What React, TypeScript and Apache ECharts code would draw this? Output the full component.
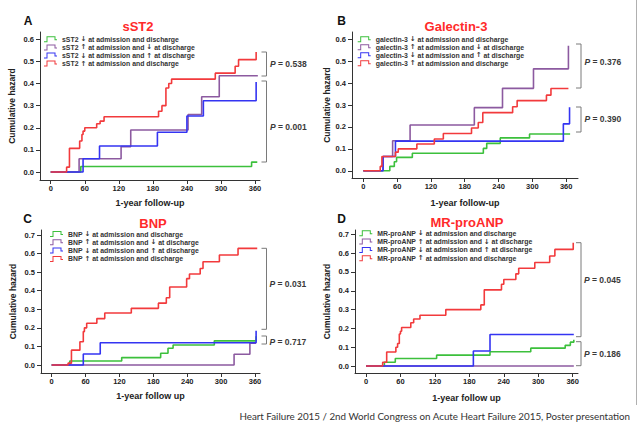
import React, { useEffect, useRef } from "react";
import * as echarts from "echarts";

// ---------- tick values ----------
const X_TICKS = [0, 60, 120, 180, 240, 300, 360];
const Y_TICKS_06 = [0, 0.1, 0.2, 0.3, 0.4, 0.5, 0.6];
const Y_TICKS_07 = [0, 0.1, 0.2, 0.3, 0.4, 0.5, 0.6, 0.7];

// ---------- legend labels ----------
const sst2Names = [
  "sST2 ↓ at admission and discharge",
  "sST2 ↑ at admission and ↓ at discharge",
  "sST2 ↓ at admission and ↑ at discharge",
  "sST2 ↑ at admission and discharge",
];
const galNames = [
  "galectin-3 ↓ at admission and discharge",
  "galectin-3 ↑ at admission and ↓ at discharge",
  "galectin-3 ↓ at admission and ↑ at discharge",
  "galectin-3 ↑ at admission and discharge",
];
const bnpNames = [
  "BNP ↓ at admission and discharge",
  "BNP ↑ at admission and ↓ at discharge",
  "BNP ↓ at admission and ↑ at discharge",
  "BNP ↑ at admission and discharge",
];
const anpNames = [
  "MR-proANP ↓ at admission and discharge",
  "MR-proANP ↑ at admission and ↓ at discharge",
  "MR-proANP ↓ at admission and ↑ at discharge",
  "MR-proANP ↑ at admission and discharge",
];

// ---------- series: [day, cumulative hazard] ----------
const sst2Green = [[0, 0], [53, 0.025], [354, 0.045], [364, 0.045]];
const sst2Purple = [[0, 0], [50, 0.06], [124, 0.115], [141, 0.19], [242, 0.26], [266, 0.34], [297, 0.435], [365, 0.435]];
const sst2Blue = [[0, 0], [57, 0.06], [86, 0.118], [188, 0.18], [240, 0.253], [269, 0.322], [362, 0.407]];
const sst2Red = [[0, 0], [28, 0.022], [33, 0.107], [51, 0.14], [55, 0.17], [57, 0.185], [60, 0.2], [81, 0.218], [87, 0.23], [94, 0.25], [190, 0.275], [196, 0.3], [203, 0.38], [208, 0.4], [213, 0.42], [290, 0.447], [325, 0.478], [331, 0.508], [362, 0.543]];

const galGreen = [[0, 0], [47, 0.02], [55, 0.041], [59, 0.061], [87, 0.08], [213, 0.102], [219, 0.125], [243, 0.15], [295, 0.168], [367, 0.168]];
const galPurple = [[0, 0], [35, 0.065], [52, 0.137], [83, 0.209], [197, 0.288], [247, 0.376], [302, 0.465], [364, 0.57]];
const galBlue = [[0, 0], [35, 0.065], [57, 0.135], [355, 0.214], [366, 0.29]];
const galRed = [[0, 0], [30, 0.02], [33, 0.065], [57, 0.085], [62, 0.1], [95, 0.122], [126, 0.145], [142, 0.17], [192, 0.195], [204, 0.22], [212, 0.265], [265, 0.292], [273, 0.32], [325, 0.345], [333, 0.375], [364, 0.375]];

const bnpGreen = [[0, 0], [32, 0.022], [124, 0.04], [193, 0.063], [206, 0.09], [215, 0.108], [288, 0.13], [362, 0.155]];
const bnpPurple = [[0, 0], [323, 0.058], [351, 0.117], [362, 0.117]];
const bnpBlue = [[0, 0], [56, 0.059], [86, 0.12], [362, 0.185]];
const bnpRed = [[0, 0], [29, 0.01], [35, 0.08], [50, 0.125], [56, 0.18], [58, 0.2], [62, 0.225], [80, 0.25], [94, 0.28], [141, 0.305], [189, 0.333], [203, 0.362], [209, 0.42], [239, 0.465], [244, 0.49], [263, 0.52], [268, 0.556], [297, 0.592], [330, 0.628], [364, 0.628]];

const anpGreen = [[0, 0], [32, 0.02], [51, 0.04], [123, 0.058], [216, 0.076], [287, 0.095], [347, 0.11], [356, 0.127], [362, 0.14]];
const anpPurple = [[0, 0], [362, 0]];
const anpBlue = [[0, 0], [187, 0.08], [216, 0.168], [362, 0.168]];
const anpRed = [[0, 0], [29, 0.02], [36, 0.075], [52, 0.1], [55, 0.12], [58, 0.17], [60, 0.185], [62, 0.205], [78, 0.23], [83, 0.25], [94, 0.27], [139, 0.3], [200, 0.325], [206, 0.405], [236, 0.435], [240, 0.46], [261, 0.49], [266, 0.52], [294, 0.55], [320, 0.585], [329, 0.62], [361, 0.655]];

// ---------- p-values ----------
const pA = ["0.538", "0.001"];
const pB = ["0.376", "0.390"];
const pC = ["0.031", "0.717"];
const pD = ["0.045", "0.186"];

const COLORS = ["#3cc03c", "#8c5aa0", "#3434f2", "#f23a3c"];
const FONT = "'Liberation Sans', Arial, sans-serif";
const AXIS_COLOR = "#333";
const STEP_ICON =
  "path://M0,10 L5,10 L5,0 L23,0 L23,6 L26,6 L26,8 L21,8 L21,2 L7,2 L7,12 L0,12 Z";

const panels = [
  {
    letter: "A", title: "sST2", letterPos: [28, 20.5], titlePos: [138, 26],
    grid: { left: 40, top: 32, width: 220, height: 148 },
    x: [-18.9, 368.8], y: [-0.036, 0.633], yTicks: Y_TICKS_06,
    xName: "1-year follow-up", xGap: 18, yGap: 23.5,
    legend: { left: 44, top: 35.3, gap: 0.1 },
    names: sst2Names, series: [sst2Green, sst2Purple, sst2Blue, sst2Red],
    p: pA,
    brackets: [[261.5, 266.5, 52, 76], [261.5, 266.5, 81, 162]],
    pPos: [[270, 63.5], [270, 127]],
  },
  {
    letter: "B", title: "Galectin-3", letterPos: [341.5, 20.5], titlePos: [456, 26],
    grid: { left: 352, top: 32, width: 226, height: 146 },
    x: [-20.1, 381], y: [-0.033, 0.633], yTicks: Y_TICKS_06,
    xName: "1-year follow-up", xGap: 20, yGap: 21,
    legend: { left: 357.7, top: 35.3, gap: 0.0 },
    names: galNames, series: [galGreen, galPurple, galBlue, galRed],
    p: pB,
    brackets: [[576, 581, 44, 88], [576, 581, 107, 132]],
    pPos: [[584.5, 62], [584.5, 119]],
  },
  {
    letter: "C", title: "BNP", letterPos: [27.5, 218.5], titlePos: [153, 223],
    grid: { left: 41, top: 230, width: 219, height: 143 },
    x: [-18.9, 368.9], y: [-0.043, 0.727], yTicks: Y_TICKS_07,
    xName: "1-year follow up", xGap: 18.5, yGap: 23.2,
    legend: { left: 50, top: 230, gap: 0.3 },
    names: bnpNames, series: [bnpGreen, bnpPurple, bnpBlue, bnpRed],
    p: pC,
    brackets: [[261.5, 266.5, 248.3, 329.3], [261.5, 266.5, 336, 344]],
    pPos: [[269.5, 284.3], [269.5, 341.5]],
  },
  {
    letter: "D", title: "MR-proANP", letterPos: [341.5, 218.5], titlePos: [467, 222],
    grid: { left: 355, top: 230, width: 223, height: 143 },
    x: [-19.2, 369.3], y: [-0.037, 0.723], yTicks: Y_TICKS_07,
    xName: "1-year follow up", xGap: 20.5, yGap: 23.2,
    legend: { left: 359.3, top: 229.3, gap: 0.3 },
    names: anpNames, series: [anpGreen, anpPurple, anpBlue, anpRed],
    p: pD,
    brackets: [[576, 581, 242.7, 336.7], [576, 581, 341.7, 365.7]],
    pPos: [[584, 280], [584, 354]],
  },
];

function buildOption() {
  const grid: any[] = [];
  const xAxis: any[] = [];
  const yAxis: any[] = [];
  const legend: any[] = [];
  const series: any[] = [];
  const graphic: any[] = [];

  const tickLabel = { fontSize: 7.5, fontWeight: "bold", color: "#222", fontFamily: FONT };

  panels.forEach((p, i) => {
    grid.push({ ...p.grid, containLabel: false });
    xAxis.push({
      type: "value", gridIndex: i, min: p.x[0], max: p.x[1],
      name: p.xName, nameLocation: "middle", nameGap: p.xGap,
      nameTextStyle: { fontSize: 9, fontWeight: "bold", color: "#222", fontFamily: FONT },
      axisLine: { show: true, onZero: false, lineStyle: { color: AXIS_COLOR, width: 1 } },
      axisTick: { show: true, length: 4, customValues: X_TICKS, lineStyle: { color: AXIS_COLOR } },
      axisLabel: { ...tickLabel, margin: 4, customValues: X_TICKS, formatter: (v: number) => String(Math.round(v)) },
      splitLine: { show: false },
    });
    yAxis.push({
      type: "value", gridIndex: i, min: p.y[0], max: p.y[1],
      name: "Cumulative hazard", nameLocation: "middle", nameGap: p.yGap,
      nameTextStyle: { fontSize: 8.5, fontWeight: "bold", color: "#222", fontFamily: FONT },
      axisLine: { show: true, onZero: false, lineStyle: { color: AXIS_COLOR, width: 1 } },
      axisTick: { show: true, length: 4, customValues: p.yTicks, lineStyle: { color: AXIS_COLOR } },
      axisLabel: { ...tickLabel, margin: 6, customValues: p.yTicks, formatter: (v: number) => v.toFixed(1) },
      splitLine: { show: false },
    });
    legend.push({
      left: p.legend.left, top: p.legend.top, orient: "vertical", padding: 0,
      itemGap: p.legend.gap, itemWidth: 13, itemHeight: 6, icon: STEP_ICON,
      selectedMode: false, data: p.names,
      itemStyle: { borderWidth: 0 },
      formatter: (name: string) => name.replace(/[↑↓]/g, (m) => `{a|${m}}`),
      textStyle: {
        fontSize: 6.9, fontWeight: "bold", color: "#333", fontFamily: FONT, lineHeight: 8,
        rich: {
          a: { fontSize: 7, fontWeight: "bold", color: "#333", fontFamily: "'DejaVu Sans', sans-serif", lineHeight: 8 },
        },
      },
    });
    p.series.forEach((d, k) => {
      series.push({
        type: "line", name: p.names[k], xAxisIndex: i, yAxisIndex: i,
        step: "end", data: d, symbol: "none", showSymbol: false, silent: true,
        lineStyle: { color: COLORS[k], width: 1.6 },
        itemStyle: { color: COLORS[k] },
      });
    });

    graphic.push({
      type: "text", x: p.letterPos[0], y: p.letterPos[1],
      style: { text: p.letter, fill: "#111", font: `bold 12px ${FONT}`, align: "center", verticalAlign: "middle", textAlign: "center", textVerticalAlign: "middle" },
    });
    graphic.push({
      type: "text", x: p.titlePos[0], y: p.titlePos[1],
      style: { text: p.title, fill: "#ff2a2a", font: `bold 13px ${FONT}`, align: "center", verticalAlign: "middle", textAlign: "center", textVerticalAlign: "middle" },
    });
    p.brackets.forEach((b) => {
      graphic.push({
        type: "polyline",
        shape: { points: [[b[0], b[2]], [b[1], b[2]], [b[1], b[3]], [b[0], b[3]]] },
        style: { stroke: "#7a7a7a", lineWidth: 1, fill: null },
      });
    });
    p.pPos.forEach((pos, k) => {
      graphic.push({
        type: "text", x: pos[0], y: pos[1],
        style: {
          text: `{i|P} {n|= ${p.p[k]}}`,
          rich: {
            i: { fontStyle: "italic", fontSize: 8.5, fontWeight: "bold", fontFamily: FONT, fill: "#3a3a3a" },
            n: { fontSize: 8.5, fontWeight: "bold", fontFamily: FONT, fill: "#3a3a3a" },
          },
          font: `bold 8.5px ${FONT}`, fill: "#3a3a3a",
          align: "left", verticalAlign: "middle", textAlign: "left", textVerticalAlign: "middle",
        },
      });
    });
  });

  graphic.push({
    type: "text", x: 630, y: 416,
    style: {
      text: "Heart Failure 2015 / 2nd World Congress on Acute Heart Failure 2015, Poster presentation",
      fill: "#333", font: `9.8px Lato, ${FONT}`,
      align: "right", verticalAlign: "middle", textAlign: "right", textVerticalAlign: "middle",
    },
  });
  graphic.push({
    type: "line", shape: { x1: 636.5, y1: 0, x2: 636.5, y2: 405 },
    style: { stroke: "#b0b0b0", lineWidth: 1 },
  });

  return { animation: false, backgroundColor: "#ffffff", grid, xAxis, yAxis, legend, series, graphic };
}

export default function App() {
  const ref = useRef<HTMLDivElement>(null);
  useEffect(() => {
    if (!ref.current) return;
    const chart = echarts.init(ref.current, undefined, { renderer: "svg" });
    chart.setOption(buildOption() as any);
    return () => chart.dispose();
  }, []);
  return (
    <div
      ref={ref}
      style={{ position: "fixed", left: 0, top: 0, width: 640, height: 425, background: "#fff" }}
    />
  );
}
